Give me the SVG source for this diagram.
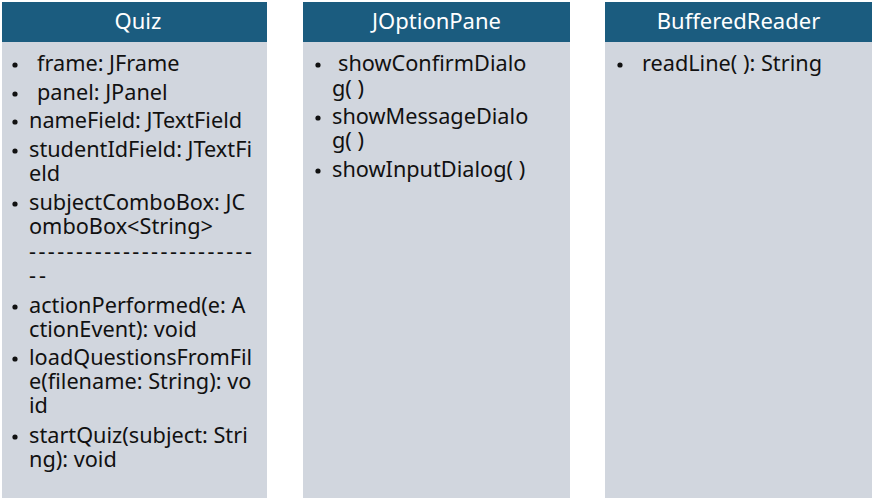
<svg xmlns="http://www.w3.org/2000/svg" width="873" height="498" viewBox="0 0 873 498">
  <style>
    .hdr { fill: #1b5c7f; }
    .body { fill: #d1d6de; }
    .title { font-family: "Noto Sans", "Open Sans", sans-serif; font-size: 22px; fill: #ffffff; text-anchor: middle; }
    .item { font-family: "Noto Sans", "Open Sans", sans-serif; font-size: 21.7px; fill: #111111; }
    .dot { fill: #111111; }
  </style>
  <defs>
    <circle id="bullet" r="2.6" class="dot"/>
  </defs>

  <!-- Quiz class -->
  <g id="quiz">
    <rect class="body" x="2" y="42" width="265" height="456"/>
    <rect class="hdr" x="2" y="2" width="265" height="40"/>
    <text class="title" x="138" y="29">Quiz</text>
    <use href="#bullet" x="15" y="65"/>
    <text class="item" x="37" y="71">frame: JFrame</text>
    <use href="#bullet" x="15" y="94"/>
    <text class="item" x="37" y="100">panel: JPanel</text>
    <use href="#bullet" x="15" y="122"/>
    <text class="item" x="29" y="128">nameField: JTextField</text>
    <use href="#bullet" x="15" y="151"/>
    <text class="item" x="29" y="157">studentIdField: JTextFi</text>
    <text class="item" x="29" y="181">eld</text>
    <use href="#bullet" x="15" y="204"/>
    <text class="item" x="29" y="210">subjectComboBox: JC</text>
    <text class="item" x="29" y="234">omboBox&lt;String&gt;</text>
    <text class="item" x="29" y="259" textLength="223" lengthAdjust="spacing">------------------------</text>
    <text class="item" x="29" y="283" textLength="17" lengthAdjust="spacing">--</text>
    <use href="#bullet" x="15" y="307"/>
    <text class="item" x="29" y="313">actionPerformed(e: A</text>
    <text class="item" x="29" y="337">ctionEvent): void</text>
    <use href="#bullet" x="15" y="359"/>
    <text class="item" x="29" y="365">loadQuestionsFromFil</text>
    <text class="item" x="29" y="389">e(filename: String): vo</text>
    <text class="item" x="29" y="413">id</text>
    <use href="#bullet" x="15" y="437"/>
    <text class="item" x="29" y="443">startQuiz(subject: Stri</text>
    <text class="item" x="29" y="467">ng): void</text>
  </g>

  <!-- JOptionPane class -->
  <g id="joptionpane">
    <rect class="body" x="303" y="42" width="267" height="456"/>
    <rect class="hdr" x="303" y="2" width="267" height="40"/>
    <text class="title" x="436.5" y="29">JOptionPane</text>
    <use href="#bullet" x="318" y="65"/>
    <text class="item" x="338" y="71">showConfirmDialo</text>
    <text class="item" x="332" y="96">g( )</text>
    <use href="#bullet" x="318" y="118"/>
    <text class="item" x="332" y="124">showMessageDialo</text>
    <text class="item" x="332" y="148">g( )</text>
    <use href="#bullet" x="318" y="171"/>
    <text class="item" x="332" y="177">showInputDialog( )</text>
  </g>

  <!-- BufferedReader class -->
  <g id="bufferedreader">
    <rect class="body" x="605" y="42" width="267" height="456"/>
    <rect class="hdr" x="605" y="2" width="267" height="40"/>
    <text class="title" x="738.5" y="29">BufferedReader</text>
    <use href="#bullet" x="620" y="65"/>
    <text class="item" x="642" y="71">readLine( ): String</text>
  </g>

  <!-- no connectors between the classes -->
  <g id="connectors"/>
</svg>
